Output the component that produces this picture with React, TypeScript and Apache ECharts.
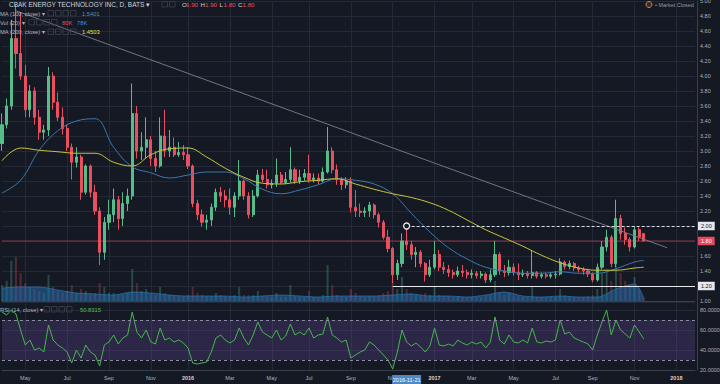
import React, { useEffect, useRef } from 'react';
import * as echarts from 'echarts';

// ---------- data ----------
const START_MONDAY = '2015-03-23';
const SLOT_COUNT = 150; // weekly slots on the time axis
const MONTHS = ['Jan', 'Feb', 'Mar', 'Apr', 'May', 'Jun', 'Jul', 'Aug', 'Sep', 'Oct', 'Nov', 'Dec'];

// weekly candles: [open, close, low, high]
const ohlc: number[][] = [
  [3.10, 3.35, 3.00, 3.50], [3.35, 3.60, 3.30, 3.70], [3.60, 4.50, 3.55, 4.75], [4.50, 4.30, 4.10, 4.95], [4.30, 4.00, 3.95, 4.85],
  [4.00, 3.55, 3.45, 4.15], [3.55, 3.80, 3.45, 3.88], [3.80, 3.45, 3.35, 3.85], [3.45, 3.25, 3.15, 3.55], [3.25, 3.28, 3.15, 3.35],
  [3.28, 4.00, 3.20, 4.12], [4.00, 3.65, 3.55, 4.05], [3.65, 3.45, 3.40, 3.78], [3.45, 3.30, 3.22, 3.58], [3.30, 3.05, 3.00, 3.35],
  [3.05, 2.85, 2.62, 3.10], [2.85, 2.92, 2.78, 3.05], [2.92, 2.45, 2.35, 2.95], [2.45, 2.80, 2.42, 2.82], [2.80, 2.45, 2.38, 2.82],
  [2.45, 2.20, 2.15, 2.55], [2.20, 1.65, 1.48, 2.25], [1.65, 2.05, 1.55, 2.12], [2.05, 2.15, 1.95, 2.35], [2.15, 2.35, 2.05, 2.50],
  [2.35, 2.10, 1.95, 2.40], [2.10, 2.30, 2.00, 2.45], [2.30, 2.40, 2.20, 2.50], [2.40, 3.50, 2.35, 3.90], [3.50, 3.00, 2.90, 3.60],
  [3.00, 3.05, 2.88, 3.25], [3.05, 3.15, 2.90, 3.45], [3.15, 2.90, 2.80, 3.20], [2.90, 2.80, 2.72, 3.00], [2.80, 3.20, 2.78, 3.45],
  [3.20, 3.00, 2.92, 3.55], [3.00, 3.05, 2.92, 3.28], [3.05, 2.95, 2.92, 3.18], [2.95, 2.98, 2.92, 3.12], [2.98, 2.95, 2.88, 3.08],
  [2.95, 2.80, 2.76, 3.05], [2.80, 2.30, 2.25, 2.82], [2.30, 2.15, 2.08, 2.35], [2.15, 2.05, 1.99, 2.22], [2.05, 2.08, 1.95, 2.15],
  [2.08, 2.25, 2.00, 2.30], [2.25, 2.45, 2.20, 2.50], [2.45, 2.40, 2.32, 2.52], [2.40, 2.35, 2.25, 2.48], [2.35, 2.25, 2.15, 2.50],
  [2.25, 2.40, 2.12, 2.45], [2.40, 2.60, 2.35, 2.88], [2.60, 2.40, 2.35, 2.62], [2.40, 2.15, 2.10, 2.45], [2.15, 2.40, 2.12, 2.48],
  [2.40, 2.68, 2.38, 2.75], [2.68, 2.62, 2.58, 2.76], [2.62, 2.55, 2.50, 2.75], [2.55, 2.57, 2.50, 2.62], [2.57, 2.68, 2.52, 2.90],
  [2.68, 2.58, 2.56, 2.72], [2.58, 2.62, 2.56, 2.72], [2.62, 2.75, 2.58, 3.05], [2.75, 2.60, 2.56, 2.78], [2.60, 2.65, 2.56, 2.75],
  [2.65, 2.70, 2.60, 2.76], [2.70, 2.62, 2.58, 2.95], [2.62, 2.64, 2.58, 2.70], [2.64, 2.60, 2.56, 2.70], [2.60, 2.72, 2.58, 2.78],
  [2.72, 3.00, 2.70, 3.32], [3.00, 2.75, 2.70, 3.05], [2.75, 2.62, 2.55, 2.82], [2.62, 2.55, 2.48, 2.65], [2.55, 2.60, 2.50, 2.65],
  [2.60, 2.25, 2.18, 2.65], [2.25, 2.20, 2.12, 2.48], [2.20, 2.18, 2.12, 2.30], [2.18, 2.20, 2.12, 2.25], [2.20, 2.28, 2.12, 2.32],
  [2.28, 2.15, 2.10, 2.30], [2.15, 2.05, 1.98, 2.18], [2.05, 1.85, 1.82, 2.08], [1.85, 1.70, 1.65, 1.95], [1.70, 1.35, 1.24, 1.72],
  [1.35, 1.50, 1.28, 1.55], [1.50, 1.80, 1.45, 1.90], [1.80, 1.75, 1.68, 1.99], [1.75, 1.62, 1.55, 1.80], [1.62, 1.65, 1.45, 1.72],
  [1.65, 1.50, 1.45, 1.68], [1.50, 1.35, 1.26, 1.52], [1.35, 1.45, 1.32, 1.55], [1.45, 1.62, 1.42, 1.80], [1.62, 1.45, 1.40, 1.68],
  [1.45, 1.42, 1.36, 1.52], [1.42, 1.38, 1.32, 1.48], [1.38, 1.35, 1.30, 1.42], [1.35, 1.40, 1.32, 1.46], [1.40, 1.38, 1.32, 1.48],
  [1.38, 1.35, 1.30, 1.42], [1.35, 1.37, 1.30, 1.42], [1.37, 1.34, 1.30, 1.40], [1.34, 1.36, 1.30, 1.40], [1.36, 1.28, 1.24, 1.38],
  [1.28, 1.35, 1.25, 1.42], [1.35, 1.62, 1.32, 1.80], [1.62, 1.40, 1.35, 1.65], [1.40, 1.38, 1.32, 1.48], [1.38, 1.45, 1.34, 1.55],
  [1.45, 1.38, 1.34, 1.50], [1.38, 1.35, 1.28, 1.50], [1.35, 1.37, 1.32, 1.42], [1.37, 1.34, 1.30, 1.40], [1.34, 1.38, 1.30, 1.68],
  [1.38, 1.33, 1.30, 1.40], [1.33, 1.35, 1.30, 1.38], [1.35, 1.33, 1.30, 1.38], [1.33, 1.35, 1.30, 1.38], [1.35, 1.36, 1.30, 1.40],
  [1.36, 1.52, 1.34, 1.57], [1.52, 1.46, 1.42, 1.54], [1.46, 1.50, 1.42, 1.54], [1.50, 1.44, 1.40, 1.52], [1.44, 1.42, 1.38, 1.47],
  [1.42, 1.40, 1.35, 1.45], [1.40, 1.36, 1.32, 1.43], [1.36, 1.28, 1.25, 1.38], [1.28, 1.45, 1.26, 1.50], [1.45, 1.72, 1.42, 1.80],
  [1.72, 1.85, 1.66, 1.95], [1.85, 1.50, 1.45, 1.88], [1.50, 2.10, 1.45, 2.35], [2.10, 1.90, 1.82, 2.15], [1.90, 1.82, 1.75, 1.98],
  [1.82, 1.72, 1.66, 1.85], [1.72, 1.95, 1.70, 2.00], [1.95, 1.85, 1.80, 1.98], [1.90, 1.80, 1.80, 1.90],
];

const volumes = [
  400, 500, 1000, 1100, 700, 450, 350, 300, 250, 200,
  650, 350, 250, 200, 250, 400, 200, 300, 250, 200,
  200, 450, 350, 200, 200, 150, 150, 200, 800, 450,
  250, 300, 200, 150, 350, 200, 150, 120, 120, 120,
  150, 350, 200, 150, 120, 120, 200, 150, 120, 120,
  150, 350, 150, 150, 150, 250, 120, 120, 100, 200,
  100, 100, 400, 120, 100, 100, 250, 100, 100, 150,
  900, 400, 150, 120, 100, 300, 200, 120, 100, 120,
  100, 150, 200, 250, 500, 300, 600, 300, 200, 150,
  150, 200, 150, 350, 150, 120, 120, 100, 120, 100,
  100, 100, 100, 100, 150, 150, 500, 200, 150, 200,
  120, 120, 100, 100, 350, 100, 100, 100, 100, 100,
  300, 150, 120, 100, 100, 100, 120, 150, 300, 700,
  800, 500, 1200, 700, 500, 400, 600, 300, 80,
];

const rsiValues = [
  78, 75, 80, 76, 60, 45, 50, 40, 42, 38,
  65, 50, 45, 42, 38, 27, 40, 32, 45, 38,
  35, 24, 45, 48, 55, 46, 52, 55, 78, 58,
  52, 60, 48, 46, 62, 50, 52, 48, 50, 47,
  42, 27, 26, 27, 28, 38, 52, 55, 50, 47,
  50, 62, 52, 45, 55, 68, 58, 55, 52, 60,
  50, 54, 66, 55, 58, 55, 62, 52, 55, 56,
  73, 55, 52, 48, 50, 32, 35, 38, 40, 48,
  45, 40, 35, 30, 21, 38, 60, 48, 44, 47,
  43, 38, 44, 62, 45, 44, 46, 44, 50, 47,
  45, 48, 46, 48, 42, 48, 73, 50, 46, 55,
  48, 47, 50, 47, 62, 48, 47, 49, 48, 50,
  70, 56, 58, 52, 50, 48, 46, 40, 55, 68,
  80, 55, 70, 60, 56, 52, 65, 58, 50.83,
];

const maSlots = [0, 4, 8, 12, 16, 20, 24, 28, 32, 36, 40, 44, 48, 52, 56, 60, 64, 68, 72, 76, 80, 84, 88, 92, 96, 100, 104, 108, 112, 116, 120, 124, 128, 132, 136, 138];
const ma100 = [2.44, 2.61, 3.01, 3.27, 3.40, 3.43, 3.05, 2.79, 2.71, 2.64, 2.68, 2.72, 2.72, 2.63, 2.49, 2.43, 2.48, 2.55, 2.63, 2.61, 2.56, 2.43, 2.17, 1.92, 1.71, 1.56, 1.45, 1.40, 1.37, 1.37, 1.39, 1.37, 1.37, 1.43, 1.52, 1.54];
const ma200 = [2.87, 3.04, 3.01, 2.99, 2.97, 2.97, 2.85, 2.80, 2.95, 3.03, 3.04, 2.92, 2.77, 2.65, 2.57, 2.56, 2.59, 2.61, 2.63, 2.56, 2.49, 2.43, 2.38, 2.31, 2.21, 2.08, 1.95, 1.84, 1.73, 1.61, 1.51, 1.44, 1.41, 1.41, 1.44, 1.45];
const volMa = [325, 350, 350, 275, 200, 175, 150, 225, 200, 150, 125, 125, 125, 100, 125, 150, 125, 100, 125, 125, 125, 150, 175, 125, 125, 100, 150, 225, 125, 100, 125, 100, 100, 300, 425, 78];

const trendStart = [3, 4.87];
const trendEnd = [143, 1.71];
const resistanceLevel = 2.0;
const resistanceFromSlot = 87;
const supportLevel = 1.2;
const supportFromSlot = 84;
const lastPrice = 1.8;
const highlightDate = '2016-11-21';

// ---------- helpers ----------
const DAY = 86400000;
const startMs = Date.parse(START_MONDAY + 'T00:00:00Z');
const categories: string[] = Array.from({ length: SLOT_COUNT }, (_, i) =>
  new Date(startMs + i * 7 * DAY).toISOString().slice(0, 10)
);
const fridayOf = (i: number) => new Date(startMs + (i * 7 + 4) * DAY);
const isTick = (i: number) => {
  const f = fridayOf(i);
  const p = fridayOf(i - 1);
  return f.getUTCMonth() !== p.getUTCMonth() && f.getUTCMonth() % 2 === 0;
};
const tickLabel = (i: number) => {
  const f = fridayOf(i);
  return f.getUTCMonth() === 0 ? `{y|${f.getUTCFullYear()}}` : MONTHS[f.getUTCMonth()];
};

const FONT = "'Liberation Sans', Arial, sans-serif";
const BG = '#151924';
const GRID_LINE = '#242937';
const AXIS_TEXT = '#aeb2bd';
const UP = '#56bd8a';
const DOWN = '#e9505f';

function buildOption(): any {
  const xBase = (gridIndex: number) => ({
    type: 'category',
    gridIndex,
    data: categories,
    boundaryGap: false,
    axisTick: { show: false, interval: (i: number) => isTick(i) },
    axisLabel: { show: false, interval: (i: number) => isTick(i) },
    axisLine: { show: false },
    splitLine: { show: false, interval: (i: number) => isTick(i), lineStyle: { color: GRID_LINE, width: 1 } },
  });
  const xMain: any = xBase(0);
  xMain.splitLine.show = true;
  xMain.axisLine = { show: true, lineStyle: { color: '#3a3f4c', width: 1 } };
  const xVol: any = xBase(1);
  const xRsi: any = xBase(2);
  xRsi.splitLine.show = true;
  xRsi.axisLine = { show: true, lineStyle: { color: '#3a3f4c', width: 1 } };
  xRsi.axisLabel = {
    show: true,
    interval: (i: number) => isTick(i),
    formatter: (_v: string, i: number) => tickLabel(i),
    color: AXIS_TEXT,
    fontSize: 5.5,
    fontFamily: FONT,
    margin: 5,
    rich: { y: { fontWeight: 'bold', fontSize: 5.5, color: '#d1d4dc', fontFamily: FONT } },
  };

  const priceLabel = (text: string, bg: string, fg: string) => ({
    show: true,
    position: 'end',
    distance: 3,
    formatter: text,
    backgroundColor: bg,
    color: fg,
    fontSize: 5.5,
    fontFamily: FONT,
    padding: [1.5, 3, 1, 3],
  });

  const lastSlot = SLOT_COUNT - 1;

  return {
    animation: false,
    backgroundColor: BG,
    grid: [
      { left: 2, right: 25, top: 1, height: 300, outerBoundsMode: 'none' },
      { left: 2, right: 25, top: 241, height: 60, outerBoundsMode: 'none' },
      { left: 2, right: 25, top: 302, height: 68, outerBoundsMode: 'none' },
    ],
    xAxis: [xMain, xVol, xRsi],
    yAxis: [
      {
        type: 'value', gridIndex: 0, position: 'right', offset: 2,
        min: 1, max: 5, interval: 0.2,
        axisLine: { show: true, lineStyle: { color: '#3a3f4c' } },
        axisTick: { show: false },
        axisLabel: { color: AXIS_TEXT, fontSize: 5.5, fontFamily: FONT, margin: 3, formatter: (v: number) => v.toFixed(2) },
        splitLine: { show: true, lineStyle: { color: GRID_LINE, width: 1 } },
      },
      { type: 'value', gridIndex: 1, min: 0, max: 1500, show: false, splitLine: { show: false } },
      {
        type: 'value', gridIndex: 2, position: 'right', offset: 2,
        min: 20, max: 88, interval: 20,
        axisLine: { show: true, lineStyle: { color: '#3a3f4c' } },
        axisTick: { show: false },
        axisLabel: { color: AXIS_TEXT, fontSize: 5.5, fontFamily: FONT, margin: 3, showMaxLabel: false, formatter: (v: number) => v.toFixed(4) },
        splitLine: { show: true, lineStyle: { color: GRID_LINE, width: 1 } },
      },
    ],
    series: [
      {
        type: 'bar',
        xAxisIndex: 1,
        yAxisIndex: 1,
        barWidth: 2,
        silent: true,
        data: volumes.map((v, i) => ({
          value: v,
          itemStyle: { color: ohlc[i][1] >= ohlc[i][0] ? 'rgba(83,185,135,0.3)' : 'rgba(235,77,92,0.3)' },
        })),
      },
      {
        type: 'line',
        xAxisIndex: 1,
        yAxisIndex: 1,
        showSymbol: false,
        smooth: 0.3,
        silent: true,
        data: maSlots.map((s, k) => [s, volMa[k]]),
        lineStyle: { color: '#2f7fc4', width: 0.6 },
        areaStyle: { color: 'rgba(36,108,172,0.78)' },
      },
      {
        // last-price line
        type: 'line',
        xAxisIndex: 0,
        yAxisIndex: 0,
        showSymbol: false,
        silent: true,
        z: 1,
        data: [[0, lastPrice], [lastSlot, lastPrice]],
        lineStyle: { color: '#a33d52', width: 0.8, type: 'solid' },
        itemStyle: { color: '#a33d52' },
        endLabel: {
          show: true,
          distance: 3,
          formatter: lastPrice.toFixed(2),
          backgroundColor: '#e44a5a',
          color: '#ffffff',
          fontSize: 5.5,
          fontFamily: FONT,
          padding: [1.5, 3, 1, 3],
        },
      },
      {
        type: 'candlestick',
        xAxisIndex: 0,
        yAxisIndex: 0,
        barWidth: 2.6,
        clip: false,
        data: ohlc,
        itemStyle: { color: UP, color0: DOWN, borderColor: UP, borderColor0: DOWN, borderWidth: 1 },
        markLine: {
          silent: true,
          symbol: ['none', 'none'],
          label: { show: false },
          data: [
            [
              { coord: trendStart, lineStyle: { color: '#7b7f8b', width: 0.9, type: 'solid' }, label: { show: false } },
              { coord: trendEnd, lineStyle: { color: '#7b7f8b', width: 0.9, type: 'solid' }, label: { show: false } },
            ],
            [
              { coord: [resistanceFromSlot, resistanceLevel], lineStyle: { color: '#d9dce3', width: 1, type: [3, 2] }, label: priceLabel(resistanceLevel.toFixed(2), '#e6e8ee', '#131722') },
              { coord: [lastSlot, resistanceLevel], lineStyle: { color: '#d9dce3', width: 1, type: [3, 2] }, label: priceLabel(resistanceLevel.toFixed(2), '#e6e8ee', '#131722') },
            ],
            [
              { coord: [supportFromSlot, supportLevel], lineStyle: { color: '#e6e8ee', width: 1.2, type: 'solid' }, label: priceLabel(supportLevel.toFixed(2), '#e6e8ee', '#131722') },
              { coord: [lastSlot, supportLevel], lineStyle: { color: '#e6e8ee', width: 1.2, type: 'solid' }, label: priceLabel(supportLevel.toFixed(2), '#e6e8ee', '#131722') },
            ],
          ],
        },
        markPoint: {
          silent: true,
          data: [
            {
              coord: [resistanceFromSlot, resistanceLevel],
              symbol: 'circle',
              symbolSize: 6,
              itemStyle: { color: BG, borderColor: '#e6e8ee', borderWidth: 1.3 },
              label: { show: false },
            },
          ],
        },
      },
      {
        type: 'line',
        xAxisIndex: 0,
        yAxisIndex: 0,
        showSymbol: false,
        smooth: 0.4,
        silent: true,
        data: maSlots.map((s, k) => [s, ma100[k]]),
        lineStyle: { color: '#3b78b0', width: 1 },
      },
      {
        type: 'line',
        xAxisIndex: 0,
        yAxisIndex: 0,
        showSymbol: false,
        smooth: 0.4,
        silent: true,
        data: maSlots.map((s, k) => [s, ma200[k]]),
        lineStyle: { color: '#c9c43e', width: 1 },
      },
      {
        type: 'line',
        xAxisIndex: 2,
        yAxisIndex: 2,
        showSymbol: false,
        silent: true,
        data: rsiValues,
        lineStyle: { color: '#45b84b', width: 1 },
        markArea: {
          silent: true,
          itemStyle: { color: 'rgba(126,87,194,0.22)' },
          data: [[{ yAxis: 30 }, { yAxis: 70 }]],
        },
        markLine: {
          silent: true,
          symbol: ['none', 'none'],
          label: { show: false },
          lineStyle: { color: '#8a8ea0', width: 1, type: [3, 3] },
          data: [{ yAxis: 70 }, { yAxis: 30 }],
        },
      },
    ],
  };
}

function text(id: string, x: number, y: number, t: string, fill: string, size = 5.8, extra: any = {}) {
  return {
    id, type: 'text', x, y, silent: true, z: 100,
    style: { text: t, fill, fontSize: size, fontFamily: FONT, verticalAlign: 'middle', align: 'left', ...extra },
  };
}
function boxes(prefix: string, x0: number, y: number, n: number) {
  return Array.from({ length: n }, (_, k) => ({
    id: `${prefix}${k}`, type: 'rect', silent: true, z: 100,
    shape: { x: x0 + k * 7.5, y: y - 3, width: 5.5, height: 5.5 },
    style: { fill: 'rgba(0,0,0,0)', stroke: '#3b404d', lineWidth: 0.8 },
  }));
}

function headerElements(): any[] {
  return [
    text('title', 9, 4.5, 'CBAK ENERGY TECHNOLOGY INC, D, BATS ▾', '#d1d4dc', 6.5),
    ...boxes('tb', 162, 4.5, 2),
    text('o', 182, 4.5, 'O', '#d1d4dc', 6.2), text('ov', 186, 4.5, '1.90', DOWN, 6.2),
    text('h', 200.5, 4.5, 'H', '#d1d4dc', 6.2), text('hv', 205, 4.5, '1.90', DOWN, 6.2),
    text('l', 219.5, 4.5, 'L', '#d1d4dc', 6.2), text('lv', 223.5, 4.5, '1.80', DOWN, 6.2),
    text('c', 238, 4.5, 'C', '#d1d4dc', 6.2), text('cv', 242.5, 4.5, '1.80', DOWN, 6.2),
    text('ma1', 0, 13.5, 'MA (100, close) ▾', '#b2b5be'),
    ...boxes('mb1', 48, 13.5, 4),
    text('ma1v', 82, 13.5, '1.5401', '#4f8fd0'),
    text('vol', 0, 22.5, 'Vol (20) ▾', '#b2b5be'),
    ...boxes('vb', 29, 22.5, 4),
    text('volv1', 62, 22.5, '80K', '#e0505e'),
    text('volv2', 77, 22.5, '78K', '#3d8ee6'),
    text('ma2', 0, 32, 'MA (200, close) ▾', '#b2b5be'),
    ...boxes('mb2', 48, 32, 4),
    text('ma2v', 82, 32, '1.4503', '#e8e34f'),
    text('rsi', 0, 309.5, 'RSI (14, close) ▾', '#b2b5be'),
    ...boxes('rb', 44, 309.5, 4),
    text('rsiv', 80, 309.5, '50.8315', '#4fc24f'),
    {
      id: 'mkIcon', type: 'circle', silent: true, z: 100,
      shape: { cx: 649, cy: 4.5, r: 3 },
      style: { fill: '#3b2a22', stroke: '#e08a3c', lineWidth: 1 },
    },
    text('mk', 655, 4.5, '• Market Closed', '#9598a1', 5.5),
  ];
}

export default function App() {
  const ref = useRef<HTMLDivElement>(null);
  useEffect(() => {
    if (!ref.current) return;
    const chart = echarts.init(ref.current, null, { renderer: 'svg' });
    chart.setOption(buildOption());
    const idx = categories.indexOf(highlightDate);
    const px = chart.convertToPixel({ xAxisIndex: 2 }, idx) as unknown as number;
    chart.setOption({
      graphic: [
        ...headerElements(),
        {
          id: 'dateBox', type: 'rect', silent: true, z: 100,
          shape: { x: px - 14.5, y: 375, width: 29, height: 9 },
          style: { fill: '#4f88c6' },
        },
        {
          id: 'dateText', type: 'text', silent: true, z: 101, x: px, y: 379.5,
          style: { text: highlightDate, fill: '#ffffff', fontSize: 5.5, fontFamily: FONT, align: 'center', verticalAlign: 'middle' },
        },
      ],
    });
    return () => chart.dispose();
  }, []);
  return <div ref={ref} style={{ position: 'fixed', left: 0, top: 0, width: 720, height: 384 }} />;
}
